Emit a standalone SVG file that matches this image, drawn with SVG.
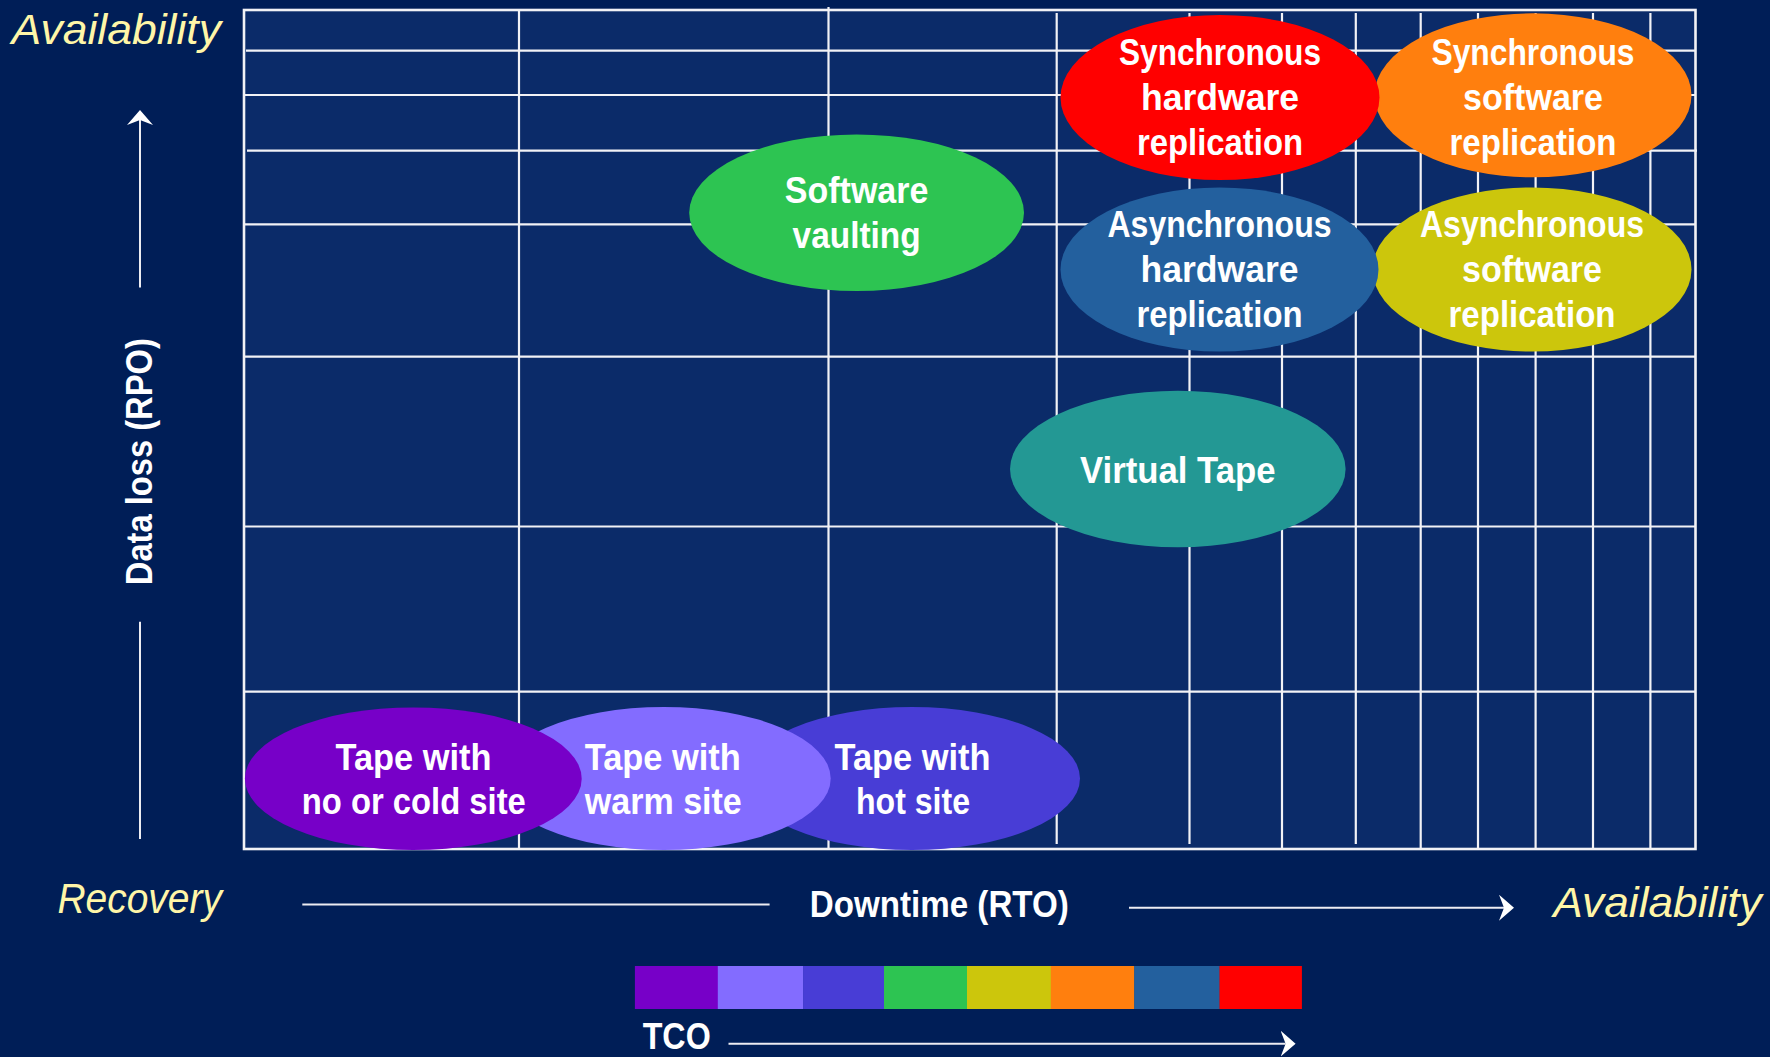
<svg xmlns="http://www.w3.org/2000/svg" width="1770" height="1057" viewBox="0 0 1770 1057">
  <defs>
    <style>
      .lbl { font-family: "Liberation Sans", Arial, sans-serif; font-weight: bold; fill: #ffffff; font-size: 36px; text-anchor: middle; }
      .axis { font-family: "Liberation Sans", Arial, sans-serif; font-weight: bold; fill: #ffffff; font-size: 36px; }
      .ital { font-family: "Liberation Sans", Arial, sans-serif; font-style: italic; fill: #FFF6A8; font-size: 43px; }
      .grid line { stroke: #F2F2F6; stroke-width: 2.2; }
      .conn line { stroke: #ECECF2; stroke-width: 2; fill: none; }
    </style>
    <marker id="head" markerUnits="userSpaceOnUse" markerWidth="16" markerHeight="26" refX="5" refY="13" orient="auto">
      <path d="M0,0 L15,13 L0,26 L5,13 Z" fill="#FFFFFF"/>
    </marker>
  </defs>

  <!-- background -->
  <rect x="0" y="0" width="1770" height="1057" fill="#001E57"/>

  <!-- chart grid -->
  <g class="grid">
    <rect x="244" y="10" width="1451.5" height="839" fill="#0B2B69" stroke="#F2F2F6" stroke-width="2.6"/>
    <line x1="246" y1="50.7" x2="1695" y2="50.7"/>
    <line x1="244" y1="95" x2="1695" y2="95"/>
    <line x1="247" y1="150.7" x2="1697" y2="150.7"/>
    <line x1="244" y1="224.3" x2="1695" y2="224.3"/>
    <line x1="244" y1="356.7" x2="1695" y2="356.7"/>
    <line x1="244" y1="526.5" x2="1695" y2="526.5"/>
    <line x1="244" y1="691.7" x2="1695" y2="691.7"/>
    <line x1="519" y1="10" x2="519" y2="849"/>
    <line x1="828.5" y1="7" x2="828.5" y2="849"/>
    <line x1="1056.7" y1="13" x2="1056.7" y2="844"/>
    <line x1="1189.5" y1="13" x2="1189.5" y2="844"/>
    <line x1="1282" y1="13" x2="1282" y2="849"/>
    <line x1="1355.8" y1="13" x2="1355.8" y2="844"/>
    <line x1="1420.7" y1="13" x2="1420.7" y2="848"/>
    <line x1="1478" y1="13" x2="1478" y2="848"/>
    <line x1="1535.6" y1="13" x2="1535.6" y2="848"/>
    <line x1="1593" y1="13" x2="1593" y2="848"/>
    <line x1="1650.4" y1="13" x2="1650.4" y2="848"/>
  </g>

  <!-- solution nodes -->
  <g id="sync-software">
    <ellipse cx="1533" cy="95.3" rx="158.5" ry="82" fill="#FF7F0E"/>
    <text class="lbl" x="1533" y="64.5" textLength="203" lengthAdjust="spacingAndGlyphs">Synchronous</text>
    <text class="lbl" x="1533" y="109.5" textLength="140" lengthAdjust="spacingAndGlyphs">software</text>
    <text class="lbl" x="1533" y="154.5" textLength="167" lengthAdjust="spacingAndGlyphs">replication</text>
  </g>
  <g id="async-software">
    <ellipse cx="1532" cy="269.5" rx="159.5" ry="82" fill="#CCC60C"/>
    <text class="lbl" x="1532" y="237" textLength="224" lengthAdjust="spacingAndGlyphs">Asynchronous</text>
    <text class="lbl" x="1532" y="282" textLength="140" lengthAdjust="spacingAndGlyphs">software</text>
    <text class="lbl" x="1532" y="327" textLength="167" lengthAdjust="spacingAndGlyphs">replication</text>
  </g>
  <g id="sync-hardware">
    <ellipse cx="1220" cy="97.5" rx="159.5" ry="82.5" fill="#FF0000"/>
    <text class="lbl" x="1220" y="65" textLength="202" lengthAdjust="spacingAndGlyphs">Synchronous</text>
    <text class="lbl" x="1220" y="110" textLength="158" lengthAdjust="spacingAndGlyphs">hardware</text>
    <text class="lbl" x="1220" y="155" textLength="166" lengthAdjust="spacingAndGlyphs">replication</text>
  </g>
  <g id="async-hardware">
    <ellipse cx="1219.5" cy="269.5" rx="159" ry="82" fill="#23609E"/>
    <text class="lbl" x="1219.5" y="237" textLength="224" lengthAdjust="spacingAndGlyphs">Asynchronous</text>
    <text class="lbl" x="1219.5" y="282" textLength="158" lengthAdjust="spacingAndGlyphs">hardware</text>
    <text class="lbl" x="1219.5" y="327" textLength="166" lengthAdjust="spacingAndGlyphs">replication</text>
  </g>
  <g id="software-vaulting">
    <ellipse cx="856.6" cy="212.7" rx="167.4" ry="78.3" fill="#2DC452"/>
    <text class="lbl" x="856.6" y="202.7" textLength="143.6" lengthAdjust="spacingAndGlyphs">Software</text>
    <text class="lbl" x="856.6" y="248" textLength="128" lengthAdjust="spacingAndGlyphs">vaulting</text>
  </g>
  <g id="virtual-tape">
    <ellipse cx="1177.8" cy="469" rx="167.8" ry="78.3" fill="#239894"/>
    <text class="lbl" x="1177.8" y="482.7" textLength="195.7" lengthAdjust="spacingAndGlyphs">Virtual Tape</text>
  </g>
  <g id="tape-hot">
    <ellipse cx="912" cy="778.5" rx="168" ry="71.5" fill="#483DD6"/>
    <text class="lbl" x="912.5" y="769.5" textLength="156" lengthAdjust="spacingAndGlyphs">Tape with</text>
    <text class="lbl" x="913" y="813.5" textLength="114" lengthAdjust="spacingAndGlyphs">hot site</text>
  </g>
  <g id="tape-warm">
    <ellipse cx="663.7" cy="778.5" rx="167" ry="71.5" fill="#836CFF"/>
    <text class="lbl" x="662.8" y="769.5" textLength="156" lengthAdjust="spacingAndGlyphs">Tape with</text>
    <text class="lbl" x="663.3" y="813.5" textLength="157" lengthAdjust="spacingAndGlyphs">warm site</text>
  </g>
  <g id="tape-cold">
    <ellipse cx="413.3" cy="778.7" rx="168.4" ry="71.3" fill="#7700C8"/>
    <text class="lbl" x="413.5" y="769.5" textLength="156" lengthAdjust="spacingAndGlyphs">Tape with</text>
    <text class="lbl" x="413.8" y="813.5" textLength="224" lengthAdjust="spacingAndGlyphs">no or cold site</text>
  </g>

  <!-- axis arrows -->
  <g id="connectors" class="conn">
    <line x1="140" y1="287.5" x2="140" y2="120" marker-end="url(#head)"/>
    <line x1="140" y1="621.7" x2="140" y2="839"/>
    <line x1="302.3" y1="904.5" x2="769.6" y2="904.5"/>
    <line x1="1129" y1="907.7" x2="1504" y2="907.7" marker-end="url(#head)"/>
    <line x1="728.5" y1="1043.7" x2="1285.6" y2="1043.7" marker-end="url(#head)"/>
  </g>

  <!-- axis labels -->
  <text class="ital" x="11.5" y="44" textLength="209.5" lengthAdjust="spacingAndGlyphs">Availability</text>
  <text class="ital" x="57.4" y="913.3" textLength="164.6" lengthAdjust="spacingAndGlyphs">Recovery</text>
  <text class="ital" x="1553.3" y="916.7" textLength="208.4" lengthAdjust="spacingAndGlyphs">Availability</text>
  <text class="axis" x="809.8" y="916.7" textLength="259" lengthAdjust="spacingAndGlyphs">Downtime (RTO)</text>
  <text class="axis" font-size="38" text-anchor="middle" transform="translate(152.3,461.7) rotate(-90)" textLength="247" lengthAdjust="spacingAndGlyphs">Data loss (RPO)</text>
  <text class="axis" x="642.7" y="1049" font-size="35" textLength="68" lengthAdjust="spacingAndGlyphs">TCO</text>

  <!-- cost scale bar -->
  <g id="tco-bar">
    <rect x="634.9" y="966" width="83.4" height="43" fill="#7700C8"/>
    <rect x="717.8" y="966" width="85.6" height="43" fill="#836CFF"/>
    <rect x="803.1" y="966" width="81.2" height="43" fill="#483DD6"/>
    <rect x="884" y="966" width="83.3" height="43" fill="#2DC452"/>
    <rect x="967" y="966" width="84.1" height="43" fill="#CCC60C"/>
    <rect x="1050.8" y="966" width="83.7" height="43" fill="#FF7F0E"/>
    <rect x="1134.2" y="966" width="85.6" height="43" fill="#23609E"/>
    <rect x="1219.5" y="966" width="82.4" height="43" fill="#FF0000"/>
  </g>
</svg>
